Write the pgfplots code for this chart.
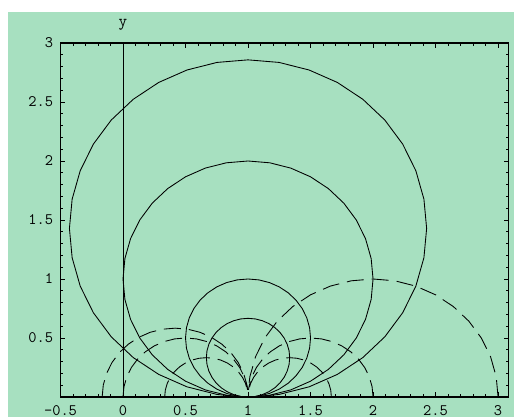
\documentclass[border=0pt]{standalone}
\usepackage{pgfplots}
\pgfplotsset{compat=1.18}
\definecolor{bggreen}{RGB}{167,224,192}

\begin{document}
\begin{tikzpicture}
\useasboundingbox (0,0) rectangle (385.5pt,312.75pt);
\fill[white] (0,0) rectangle (385.5pt,312.75pt);
\fill[bggreen] (6pt,0) rectangle (385.5pt,303.75pt);
\begin{axis}[
  at={(45.375pt,15pt)}, anchor=south west,
  scale only axis, width=336.15pt, height=265.5pt,
  xmin=-0.5, xmax=3.085, ymin=0, ymax=3,
  axis line style={line width=0.8pt},
  xtick={-0.5,0,0.5,1,1.5,2,2.5,3},
  xticklabels={-0.5,0,0.5,1,1.5,2,2.5,3},
  ytick={0.5,1,1.5,2,2.5,3},
  yticklabels={0.5,1,1.5,2,2.5,3},
  minor xtick={-0.4,-0.3,-0.2,-0.1,0.1,0.2,0.3,0.4,0.6,0.7,0.8,0.9,1.1,1.2,1.3,1.4,1.6,1.7,1.8,1.9,2.1,2.2,2.3,2.4,2.6,2.7,2.8,2.9},
  minor ytick={0.1,0.2,0.3,0.4,0.6,0.7,0.8,0.9,1.1,1.2,1.3,1.4,1.6,1.7,1.8,1.9,2.1,2.2,2.3,2.4,2.6,2.7,2.8,2.9},
  tick align=inside, tick pos=both,
  major tick length=3.5pt, minor tick length=2pt,
  every tick/.append style={black, line width=0.6pt},
  tick label style={font=\ttfamily\fontsize{12}{14}\selectfont},
  xticklabel style={yshift=-2.5pt},
  yticklabel style={xshift=-2pt},
  clip=false,
  curve/.style={black, solid, line width=0.65pt, mark=none},
  longdash/.style={black, line width=0.65pt, mark=none, dash pattern=on 12.75pt off 6pt},
]

% vertical axis line x = 0
\addplot[black, line width=0.7pt, mark=none] coordinates {(0,0) (0,3)};
\node[anchor=base, font=\ttfamily\fontsize{12.5}{14}\selectfont] at (rel axis cs:0.1395,1) [yshift=12pt] {y};

% images of horizontal lines: circles tangent to the real axis at 1
\addplot[curve] coordinates {(0.94,0.001) (0.7519,0.0217) (0.5114,0.0862) (0.2857,0.1914) (0.0817,0.3342) (-0.0943,0.5103) (-0.2372,0.7143) (-0.3424,0.9400) (-0.4069,1.1805) (-0.4286,1.4286) (-0.4069,1.6766) (-0.3424,1.9172) (-0.2372,2.1429) (-0.0943,2.3468) (0.0817,2.5229) (0.2857,2.6658) (0.5114,2.7710) (0.7519,2.8354) (1,2.8571) (1.2481,2.8354) (1.4886,2.7710) (1.7143,2.6658) (1.9183,2.5229) (2.0943,2.3468) (2.2372,2.1429) (2.3424,1.9172) (2.4069,1.6766) (2.4286,1.4286) (2.4069,1.1805) (2.3424,0.9400) (2.2372,0.7143) (2.0943,0.5103) (1.9183,0.3342) (1.7143,0.1914) (1.4886,0.0862) (1.2481,0.0217) (1.06,0.001)};
\addplot[curve] coordinates {(0.94,0.002) (0.8264,0.0152) (0.6580,0.0603) (0.5,0.1340) (0.3572,0.2340) (0.2340,0.3572) (0.1340,0.5) (0.0603,0.6580) (0.0152,0.8264) (0,1) (0.0152,1.1736) (0.0603,1.3420) (0.1340,1.5) (0.2340,1.6428) (0.3572,1.7660) (0.5,1.8660) (0.6580,1.9397) (0.8264,1.9848) (1,2) (1.1736,1.9848) (1.3420,1.9397) (1.5,1.8660) (1.6428,1.7660) (1.7660,1.6428) (1.8660,1.5) (1.9397,1.3420) (1.9848,1.1736) (2,1) (1.9848,0.8264) (1.9397,0.6580) (1.8660,0.5) (1.7660,0.3572) (1.6428,0.2340) (1.5,0.1340) (1.3420,0.0603) (1.1736,0.0152) (1.06,0.002)};
\addplot[curve] coordinates {(0.94,0.004) (0.9132,0.0076) (0.8290,0.0302) (0.75,0.0670) (0.6786,0.1170) (0.6170,0.1786) (0.5670,0.25) (0.5302,0.3290) (0.5076,0.4132) (0.5,0.5) (0.5076,0.5868) (0.5302,0.6710) (0.5670,0.75) (0.6170,0.8214) (0.6786,0.8830) (0.75,0.9330) (0.8290,0.9698) (0.9132,0.9924) (1,1) (1.0868,0.9924) (1.1710,0.9698) (1.25,0.9330) (1.3214,0.8830) (1.3830,0.8214) (1.4330,0.75) (1.4698,0.6710) (1.4924,0.5868) (1.5,0.5) (1.4924,0.4132) (1.4698,0.3290) (1.4330,0.25) (1.3830,0.1786) (1.3214,0.1170) (1.25,0.0670) (1.1710,0.0302) (1.0868,0.0076) (1.06,0.004)};
\addplot[curve] coordinates {(0.9421,0.0051) (0.8860,0.0201) (0.8333,0.0447) (0.7857,0.0780) (0.7447,0.1191) (0.7113,0.1667) (0.6868,0.2193) (0.6717,0.2755) (0.6667,0.3333) (0.6717,0.3912) (0.6868,0.4473) (0.7113,0.5) (0.7447,0.5476) (0.7857,0.5887) (0.8333,0.6220) (0.8860,0.6466) (0.9421,0.6616) (1,0.6667) (1.0579,0.6616) (1.1140,0.6466) (1.1667,0.6220) (1.2143,0.5887) (1.2553,0.5476) (1.2887,0.5) (1.3132,0.4473) (1.3283,0.3912) (1.3333,0.3333) (1.3283,0.2755) (1.3132,0.2193) (1.2887,0.1667) (1.2553,0.1191) (1.2143,0.0780) (1.1667,0.0447) (1.1140,0.0201) (1.0579,0.0051)};

% images of vertical lines: circles centred on the real axis through 1
\addplot[longdash] coordinates {(3,0) (2.9848,0.1736) (2.9397,0.3420) (2.8660,0.5) (2.7660,0.6428) (2.6428,0.7660) (2.5,0.8660) (2.3420,0.9397) (2.1736,0.9848) (2,1) (1.8264,0.9848) (1.6580,0.9397) (1.5,0.8660) (1.3572,0.7660) (1.2340,0.6428) (1.1340,0.5) (1.0603,0.3420) (1.0152,0.1736) (1.0018,0.06)};
\addplot[longdash] coordinates {(2,0) (1.9924,0.0868) (1.9698,0.1710) (1.9330,0.25) (1.8830,0.3214) (1.8214,0.3830) (1.75,0.4330) (1.6710,0.4698) (1.5868,0.4924) (1.5,0.5) (1.4132,0.4924) (1.3290,0.4698) (1.25,0.4330) (1.1786,0.3830) (1.1170,0.3214) (1.0670,0.25) (1.0302,0.1710) (1.0076,0.0868) (1.0036,0.06)};
\addplot[longdash] coordinates {(1.6667,0) (1.6616,0.0579) (1.6466,0.1140) (1.6220,0.1667) (1.5887,0.2143) (1.5476,0.2553) (1.5,0.2887) (1.4473,0.3132) (1.3912,0.3283) (1.3333,0.3333) (1.2755,0.3283) (1.2193,0.3132) (1.1667,0.2887) (1.1191,0.2553) (1.0780,0.2143) (1.0447,0.1667) (1.0201,0.1140) (1.0051,0.0579)};
\addplot[longdash] coordinates {(0,0) (0.0076,0.0868) (0.0302,0.1710) (0.0670,0.25) (0.1170,0.3214) (0.1786,0.3830) (0.25,0.4330) (0.3290,0.4698) (0.4132,0.4924) (0.5,0.5) (0.5868,0.4924) (0.6710,0.4698) (0.75,0.4330) (0.8214,0.3830) (0.8830,0.3214) (0.9330,0.25) (0.9698,0.1710) (0.9924,0.0868) (0.9964,0.06)};
\addplot[longdash] coordinates {(0.3333,0) (0.3384,0.0579) (0.3534,0.1140) (0.3780,0.1667) (0.4113,0.2143) (0.4524,0.2553) (0.5,0.2887) (0.5527,0.3132) (0.6088,0.3283) (0.6667,0.3333) (0.7245,0.3283) (0.7807,0.3132) (0.8333,0.2887) (0.8809,0.2553) (0.9220,0.2143) (0.9553,0.1667) (0.9799,0.1140) (0.9949,0.0579)};
\addplot[longdash] coordinates {(-0.1667,0) (-0.1578,0.1013) (-0.1315,0.1995) (-0.0885,0.2917) (-0.0302,0.3750) (0.0417,0.4469) (0.1250,0.5052) (0.2172,0.5482) (0.3154,0.5745) (0.4167,0.5833) (0.5180,0.5745) (0.6162,0.5482) (0.7083,0.5052) (0.7917,0.4469) (0.8636,0.3750) (0.9219,0.2917) (0.9649,0.1995) (0.9912,0.1013) (0.9969,0.06)};

\end{axis}
\end{tikzpicture}
\end{document}
